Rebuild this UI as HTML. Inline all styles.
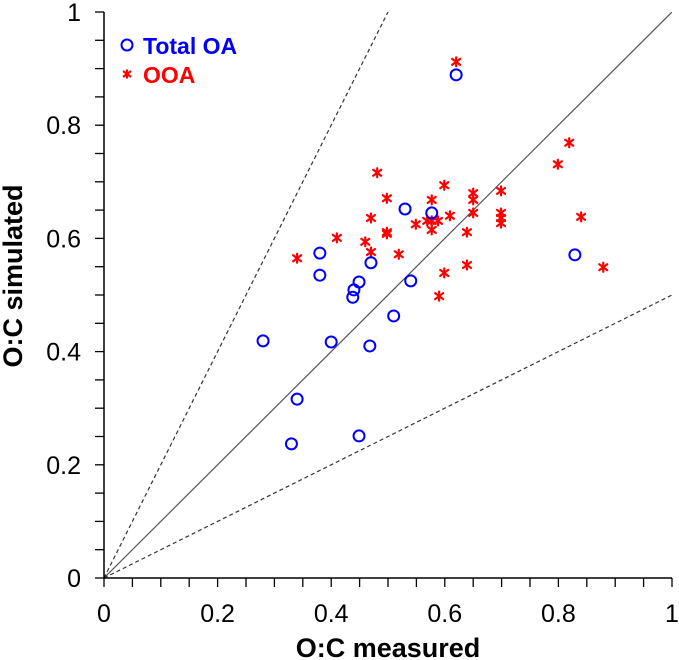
<!DOCTYPE html>
<html><head><meta charset="utf-8"><style>
html,body{margin:0;padding:0;background:#fff;}
svg{display:block;font-family:"Liberation Sans",Arial,sans-serif;}
</style></head><body>
<svg id="chart" width="679" height="660" viewBox="0 0 679 660">
<g id="plot"></g>
</svg>
<script>
const totalX=[0.62,0.53,0.577,0.38,0.38,0.47,0.449,0.44,0.438,0.54,0.829,0.51,0.28,0.40,0.468,0.34,0.33,0.449];
const totalY=[0.889,0.652,0.645,0.574,0.535,0.557,0.523,0.509,0.496,0.525,0.571,0.463,0.419,0.417,0.41,0.316,0.237,0.251];
const ooaX=[0.620,0.481,0.599,0.498,0.577,0.650,0.650,0.470,0.549,0.569,0.577,0.588,0.609,0.650,0.577,0.498,0.498,0.639,0.410,0.460,0.340,0.470,0.519,0.599,0.639,0.590,0.819,0.799,0.699,0.699,0.699,0.699,0.840,0.879];
const ooaY=[0.912,0.716,0.694,0.671,0.668,0.680,0.668,0.636,0.625,0.631,0.631,0.631,0.640,0.645,0.615,0.611,0.608,0.611,0.601,0.594,0.565,0.576,0.572,0.539,0.553,0.498,0.769,0.731,0.684,0.645,0.636,0.627,0.638,0.549];
const xTicks=[0,0.2,0.4,0.6,0.8,1];
const yTicks=[0,0.2,0.4,0.6,0.8,1];
const xTickLabels=["0","0.2","0.4","0.6","0.8","1"];
const yTickLabels=["0","0.2","0.4","0.6","0.8","1"];
const minorTicks=[0,0.05,0.1,0.15,0.2,0.25,0.3,0.35,0.4,0.45,0.5,0.55,0.6,0.65,0.7,0.75,0.8,0.85,0.9,0.95,1];

const X0=104,X1=672,Y0=578,Y1=12;
const sx=v=>X0+(X1-X0)*v;
const sy=v=>Y0-(Y0-Y1)*v;
const NS="http://www.w3.org/2000/svg";
const g=document.getElementById('plot');
function mk(tag,attrs,parent){const e=document.createElementNS(NS,tag);for(const k in attrs)e.setAttribute(k,attrs[k]);(parent||g).appendChild(e);return e;}

const defs=mk('defs',{});
const cp=mk('clipPath',{id:'clip'},defs);
mk('rect',{x:X0,y:Y1,width:X1-X0,height:Y0-Y1},cp);

let l=mk('line',{x1:sx(0),y1:sy(0),x2:sx(1),y2:sy(1),stroke:'#555','stroke-width':1.2,'clip-path':'url(#clip)'});


l=mk('line',{x1:sx(0),y1:sy(0),x2:sx(0.5),y2:sy(1),stroke:'#333','stroke-width':1.2,'stroke-dasharray':'4,3','clip-path':'url(#clip)'});


l=mk('line',{x1:sx(0),y1:sy(0),x2:sx(1),y2:sy(0.5),stroke:'#333','stroke-width':1.2,'stroke-dasharray':'4,3','clip-path':'url(#clip)'});



let ax=mk('line',{x1:X0,y1:Y0,x2:X1,y2:Y0,stroke:'#000','stroke-width':1.5});


ax=mk('line',{x1:X0,y1:Y0,x2:X0,y2:Y1,stroke:'#000','stroke-width':1.5});



minorTicks.forEach(v=>{
  let t=mk('line',{x1:sx(v),y1:Y0,x2:sx(v),y2:Y0+9,stroke:'#000','stroke-width':1.3});
  
  
  t=mk('line',{x1:X0-9,y1:sy(v),x2:X0,y2:sy(v),stroke:'#000','stroke-width':1.3});
  
  
});
xTicks.forEach((v,i)=>{
  const tx=mk('text',{x:sx(v),y:622,'font-size':25,'text-anchor':'middle',fill:'#000'});
  tx.textContent=xTickLabels[i];
  
  
});
yTicks.forEach((v,i)=>{
  const tx=mk('text',{x:81,y:sy(v)+9,'font-size':25,'text-anchor':'end',fill:'#000'});
  tx.textContent=yTickLabels[i];
  
  
});

function star(cx,cy,parent,r){
  const s=mk('g',{stroke:'#f00','stroke-width':2.2,'stroke-linecap':'round'},parent);
  [[r*0.8,r*0.6],[r*0.8,-r*0.6],[0,r*0.9]].forEach(([dx,dy])=>{
    mk('line',{x1:cx-dx,y1:cy-dy,x2:cx+dx,y2:cy+dy},s);
  });
  return s;
}

ooaX.forEach((v,i)=>{
  const s=star(sx(v),sy(ooaY[i]),g,5);
  
  
});
totalX.forEach((v,i)=>{
  const c=mk('circle',{cx:sx(v),cy:sy(totalY[i]),r:5.5,fill:'none',stroke:'#00f','stroke-width':2});
  
  
});

const lg=mk('g',{});


const lc=mk('circle',{cx:127,cy:45,r:5.5,fill:'none',stroke:'#00f','stroke-width':2},lg);


let lt=mk('text',{x:143,y:54,'font-size':23,'font-weight':'bold',fill:'#00f'},lg);
lt.textContent='Total OA';


const ls=star(127,74,lg,4);


lt=mk('text',{x:143,y:83,'font-size':23,'font-weight':'bold',fill:'#f00'},lg);
lt.textContent='OOA';



let at=mk('text',{x:388,y:657,'font-size':27,'font-weight':'bold','text-anchor':'middle',fill:'#000'});
at.textContent='O:C measured';


at=mk('text',{x:0,y:0,'font-size':27,'font-weight':'bold','text-anchor':'middle',fill:'#000',transform:'translate(22,276) rotate(-90)'});
at.textContent='O:C simulated';


</script>
</body></html>
